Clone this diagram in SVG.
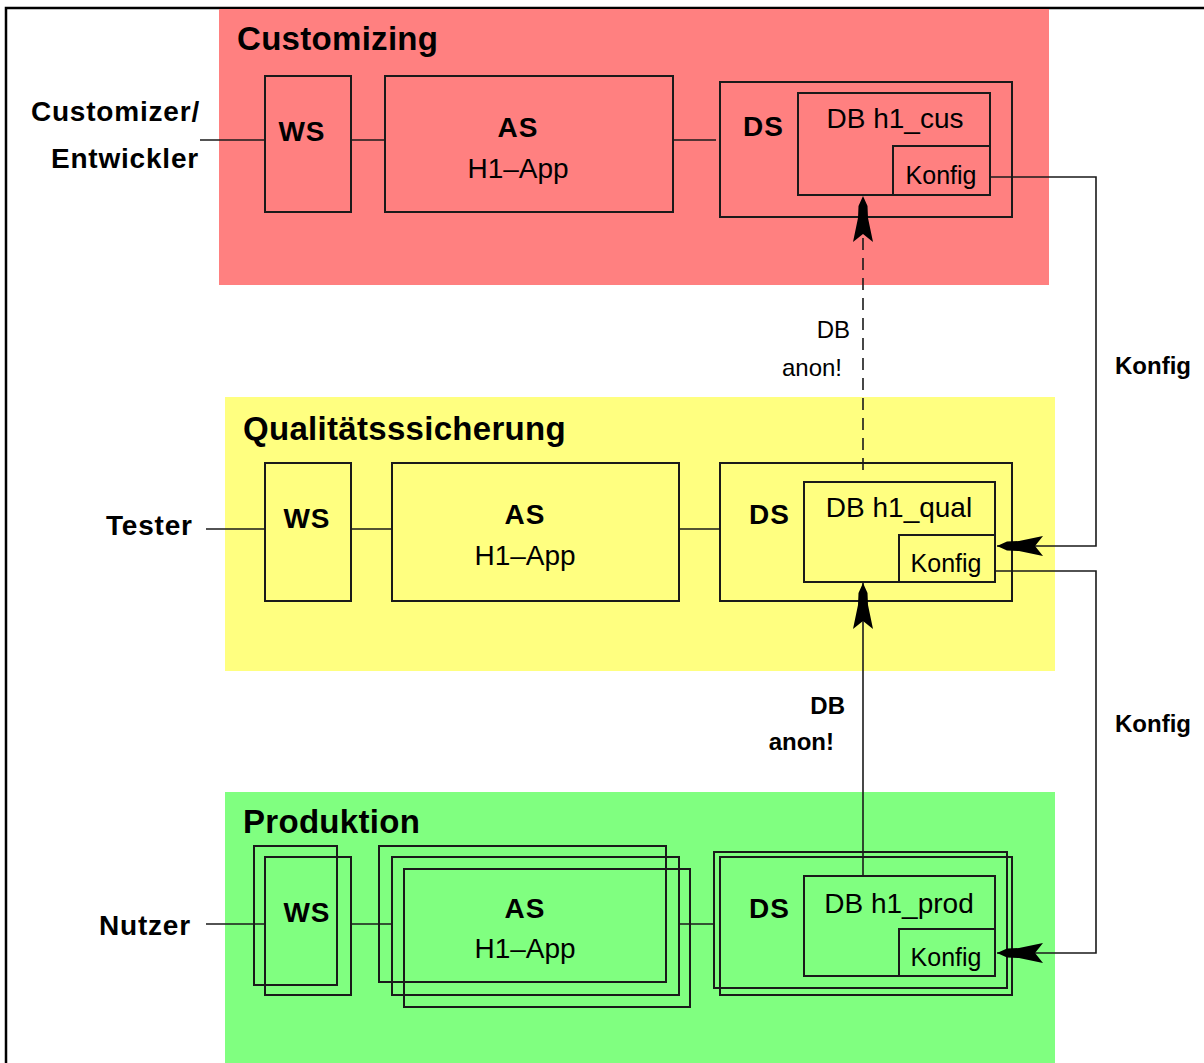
<svg xmlns="http://www.w3.org/2000/svg" width="1204" height="1063" viewBox="0 0 1204 1063">
<style>
  .box{fill:none;stroke:#1a1a1a;stroke-width:2}
  .ln{fill:none;stroke:#1a1a1a;stroke-width:1.6}
  .t{font-family:"Liberation Sans",Arial,sans-serif;fill:#000}
  .b{font-weight:bold}
  .title{font-size:33px;font-weight:bold;letter-spacing:0.3px}
  .lab{font-size:28px;font-weight:bold;letter-spacing:0.8px}
  .node{font-size:28px;font-weight:bold;letter-spacing:1px}
  .sub{font-size:28px}
  .db{font-size:28px}
  .kf{font-size:25px}
  .small{font-size:24px}
</style>
<defs>
  <marker id="arr" viewBox="0 -11 47 22" refX="46" refY="0" markerWidth="47" markerHeight="22" markerUnits="userSpaceOnUse" orient="auto">
    <path d="M46,0 L36,-4.5 L24,-5 L0,-10 L8,0 L0,10 L24,5 L36,4.5 Z" fill="#000"/>
  </marker>
</defs>
<rect width="1204" height="1063" fill="#fff"/>
<path d="M6,1063 V8 H1204" fill="none" stroke="#000" stroke-width="2.5"/>

<g id="panel-customizing">
  <rect x="219" y="9" width="830" height="276" fill="#ff8080"/>
  <text class="t title" x="237" y="50">Customizing</text>
</g>
<g id="panel-qualitaet">
  <rect x="225" y="397" width="830" height="274" fill="#ffff80"/>
  <text class="t title" x="243" y="440">Qualitätsssicherung</text>
</g>
<g id="panel-produktion">
  <rect x="225" y="792" width="830" height="271" fill="#80ff80"/>
  <text class="t title" x="243" y="833">Produktion</text>
</g>

<g id="actor-customizer">
  <text class="t lab" x="200" y="121" text-anchor="end">Customizer/</text>
  <text class="t lab" x="199" y="168" text-anchor="end">Entwickler</text>
</g>
<g id="actor-tester">
  <text class="t lab" x="106" y="535">Tester</text>
</g>
<g id="actor-nutzer">
  <text class="t lab" x="99" y="935">Nutzer</text>
</g>

<!-- Customizing nodes -->
<g id="cus-ws">
  <rect class="box" x="265" y="76" width="86" height="136"/>
  <text class="t node" x="302" y="141" text-anchor="middle">WS</text>
</g>
<g id="cus-as">
  <rect class="box" x="385" y="76" width="288" height="136"/>
  <text class="t node" x="518" y="137" text-anchor="middle">AS</text>
  <text class="t sub" x="518" y="178" text-anchor="middle">H1–App</text>
</g>
<g id="cus-ds">
  <rect class="box" x="720" y="82" width="292" height="135"/>
  <text class="t node" x="743" y="136">DS</text>
</g>
<g id="cus-db">
  <rect class="box" x="798" y="93" width="192" height="102"/>
  <text class="t db" x="895" y="128" text-anchor="middle">DB h1_cus</text>
</g>
<g id="cus-konfig">
  <rect class="box" x="893" y="146" width="97" height="49"/>
  <text class="t kf" x="941" y="184" text-anchor="middle">Konfig</text>
</g>

<!-- Qualitaet nodes -->
<g id="qs-ws">
  <rect class="box" x="265" y="463" width="86" height="138"/>
  <text class="t node" x="307" y="528" text-anchor="middle">WS</text>
</g>
<g id="qs-as">
  <rect class="box" x="392" y="463" width="287" height="138"/>
  <text class="t node" x="525" y="524" text-anchor="middle">AS</text>
  <text class="t sub" x="525" y="565" text-anchor="middle">H1–App</text>
</g>
<g id="qs-ds">
  <rect class="box" x="720" y="463" width="292" height="138"/>
  <text class="t node" x="749" y="524">DS</text>
</g>
<g id="qs-db">
  <rect class="box" x="804" y="482" width="191" height="100"/>
  <text class="t db" x="899" y="517" text-anchor="middle">DB h1_qual</text>
</g>
<g id="qs-konfig">
  <rect class="box" x="899" y="535" width="96" height="47"/>
  <text class="t kf" x="946" y="572" text-anchor="middle">Konfig</text>
</g>

<!-- Produktion nodes -->
<g id="prod-ws">
  <rect class="box" x="254" y="846" width="83" height="139"/>
  <rect class="box" x="265" y="857" width="86" height="138"/>
  <text class="t node" x="307" y="922" text-anchor="middle">WS</text>
</g>
<g id="prod-as">
  <rect class="box" x="379" y="846" width="287" height="136"/>
  <rect class="box" x="392" y="857" width="287" height="138"/>
  <rect class="box" x="404" y="869" width="286" height="138"/>
  <text class="t node" x="525" y="918" text-anchor="middle">AS</text>
  <text class="t sub" x="525" y="958" text-anchor="middle">H1–App</text>
</g>
<g id="prod-ds">
  <rect class="box" x="714" y="852" width="293" height="136"/>
  <rect class="box" x="720" y="857" width="292" height="138"/>
  <text class="t node" x="749" y="918">DS</text>
</g>
<g id="prod-db">
  <rect class="box" x="804" y="876" width="191" height="100"/>
  <text class="t db" x="899" y="913" text-anchor="middle">DB h1_prod</text>
</g>
<g id="prod-konfig">
  <rect class="box" x="899" y="929" width="96" height="47"/>
  <text class="t kf" x="946" y="966" text-anchor="middle">Konfig</text>
</g>

<g id="connectors">
  <path class="ln" d="M200,140 H265"/>
  <path class="ln" d="M351,140 H385"/>
  <path class="ln" d="M673,140 H716"/>
  <path class="ln" d="M206,529 H265"/>
  <path class="ln" d="M351,529 H392"/>
  <path class="ln" d="M679,529 H720"/>
  <path class="ln" d="M206,924 H265"/>
  <path class="ln" d="M351,924 H392"/>
  <path class="ln" d="M679,924 H714"/>
  <path class="ln" d="M863,470 V196" stroke-dasharray="12,8" marker-end="url(#arr)"/>
  <path class="ln" d="M863,876 V583" marker-end="url(#arr)"/>
  <path class="ln" d="M990,177 H1096 V546 H997" marker-end="url(#arr)"/>
  <path class="ln" d="M996,571 H1096 V953 H997" marker-end="url(#arr)"/>
  <text class="t small" x="850" y="338" text-anchor="end">DB</text>
  <text class="t small" x="842" y="376" text-anchor="end">anon!</text>
  <text class="t small b" x="845" y="714" text-anchor="end">DB</text>
  <text class="t small b" x="834" y="750" text-anchor="end">anon!</text>
  <text class="t small b" x="1115" y="374">Konfig</text>
  <text class="t small b" x="1115" y="732">Konfig</text>
</g>
</svg>
